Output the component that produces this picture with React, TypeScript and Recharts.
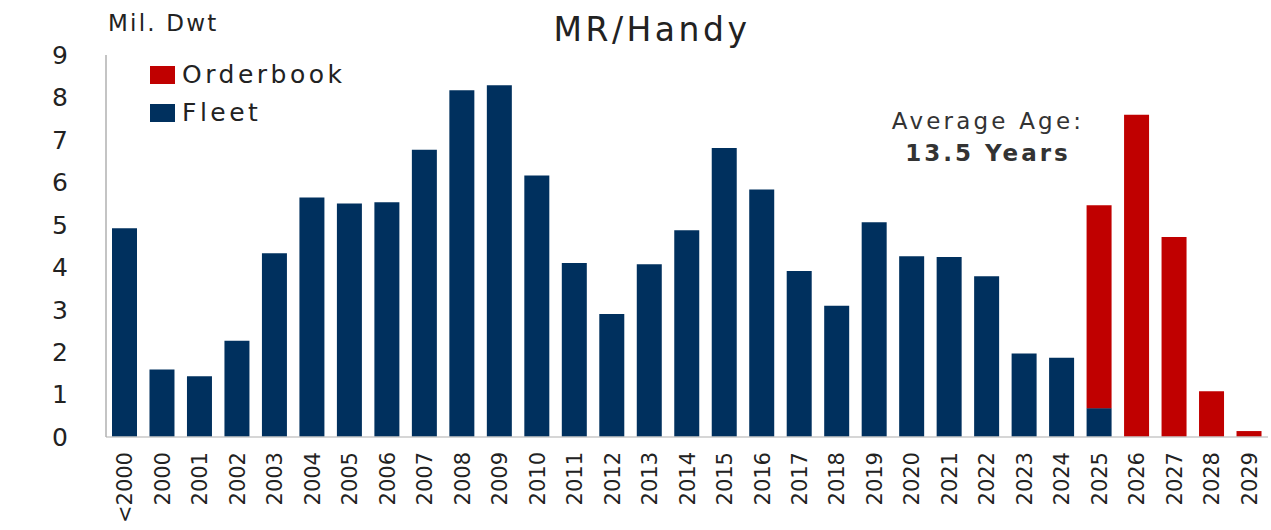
import { BarChart, Bar, XAxis, YAxis } from 'recharts'

const years = ['<2000', '2000', '2001', '2002', '2003', '2004', '2005', '2006', '2007', '2008', '2009', '2010', '2011', '2012', '2013', '2014', '2015', '2016', '2017', '2018', '2019', '2020', '2021', '2022', '2023', '2024', '2025', '2026', '2027', '2028', '2029']
const fleet = [4.92, 1.59, 1.43, 2.27, 4.33, 5.64, 5.5, 5.53, 6.77, 8.17, 8.29, 6.16, 4.1, 2.9, 4.07, 4.87, 6.81, 5.83, 3.91, 3.09, 5.06, 4.26, 4.24, 3.79, 1.97, 1.87, 0.68, 0, 0, 0, 0]
const orderbook = [0, 0, 0, 0, 0, 0, 0, 0, 0, 0, 0, 0, 0, 0, 0, 0, 0, 0, 0, 0, 0, 0, 0, 0, 0, 0, 4.78, 7.59, 4.71, 1.08, 0.14]
const yTicks = [0, 1, 2, 3, 4, 5, 6, 7, 8, 9]

const NAVY = '#00305E'
const RED = '#C00000'
const FONT = '"DejaVu Sans", sans-serif'
const TEXT = '#222'

const data = years.map((year, i) => ({ year, fleet: fleet[i], orderbook: orderbook[i] }))

function YearTick({ x, y, payload }: any) {
  const ty = y + 7
  return (
    <text
      x={x}
      y={ty}
      transform={`rotate(-90 ${x} ${ty})`}
      textAnchor="end"
      dy="0.36em"
      fontSize={21}
      fontFamily={FONT}
      fill={TEXT}
    >
      {payload.value}
    </text>
  )
}

function LegendRow({ color, label, top }: { color: string; label: string; top: number }) {
  return (
    <div style={{ position: 'absolute', left: 150, top, display: 'flex', alignItems: 'center' }}>
      <div style={{ width: 25, height: 18, background: color, marginRight: 7 }} />
      <span style={{ fontSize: 25, letterSpacing: 3.5, color: TEXT, lineHeight: '18px' }}>{label}</span>
    </div>
  )
}

export default function App() {
  return (
    <div style={{ position: 'absolute', left: 0, top: 0, width: 1271, height: 530, fontFamily: FONT, background: '#fff' }}>
      <BarChart
        width={1271}
        height={530}
        data={data}
        margin={{ top: 55, right: 3, left: 0, bottom: 0 }}
        barSize={25}
      >
        <XAxis
          dataKey="year"
          interval={0}
          height={93}
          tickLine={false}
          axisLine={{ stroke: '#C8C8C8', strokeWidth: 1.5 }}
          tick={<YearTick />}
        />
        <YAxis
          domain={[0, 9]}
          ticks={yTicks}
          width={106}
          tickLine={false}
          tickMargin={32}
          axisLine={{ stroke: '#B0B0B0', strokeWidth: 1.5 }}
          tick={{ fontSize: 25, fill: TEXT, fontFamily: FONT }}
        />
        <Bar dataKey="fleet" stackId="a" fill={NAVY} isAnimationActive={false} />
        <Bar dataKey="orderbook" stackId="a" fill={RED} isAnimationActive={false} />
      </BarChart>

      <div style={{ position: 'absolute', left: 0, width: 1271, top: 12, textAlign: 'center', paddingLeft: 33, boxSizing: 'border-box', fontSize: 33, letterSpacing: 3.5, color: TEXT, lineHeight: '36px' }}>
        MR/Handy
      </div>
      <div style={{ position: 'absolute', left: 108, top: 9, fontSize: 23, letterSpacing: 2.2, color: TEXT, lineHeight: '28px' }}>
        Mil. Dwt
      </div>

      <LegendRow color={RED} label="Orderbook" top={66} />
      <LegendRow color={NAVY} label="Fleet" top={104} />

      <div style={{ position: 'absolute', left: 988 - 150, width: 300, top: 105, textAlign: 'center', color: '#333', lineHeight: '32px' }}>
        <div style={{ fontSize: 23, letterSpacing: 3.2 }}>Average Age:</div>
        <div style={{ fontSize: 23, letterSpacing: 3, fontWeight: 'bold' }}>13.5 Years</div>
      </div>
    </div>
  )
}
